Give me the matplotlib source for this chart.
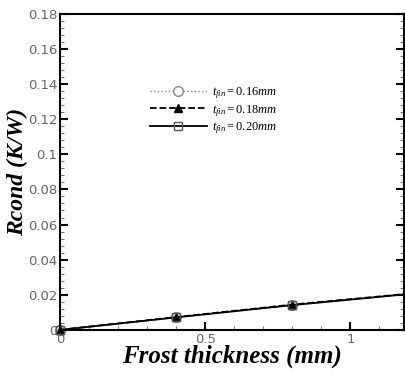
import matplotlib
matplotlib.use("Agg")
import matplotlib.pyplot as plt
from matplotlib.ticker import MultipleLocator

frost = [0.0, 0.4, 0.8, 1.2]
r_016 = [0.0, 0.0072, 0.0142, 0.0205]
r_018 = [0.0, 0.0073, 0.0144, 0.0206]
r_020 = [0.0, 0.0071, 0.0141, 0.0204]
labels = [r"$t_{fin}=0.16mm$", r"$t_{fin}=0.18mm$", r"$t_{fin}=0.20mm$"]

plt.rcParams['mathtext.fontset'] = 'custom'
plt.rcParams['mathtext.rm'] = 'Liberation Serif'
plt.rcParams['mathtext.it'] = 'Liberation Serif:italic'

fig = plt.figure(figsize=(4.05, 3.74), dpi=100)
ax = fig.add_axes([0.148, 0.118, 0.85, 0.845])

ax.plot(frost, r_016, linestyle=':', color='#888888', lw=1.0, marker='o',
        mfc='white', mec='#888888', ms=7, label=labels[0], clip_on=False)
ax.plot(frost, r_018, linestyle='--', color='black', lw=1.3, marker='^',
        mfc='black', mec='black', ms=6, label=labels[1], clip_on=False)
ax.plot(frost, r_020, linestyle='-', color='black', lw=1.3, marker='s',
        mfc='none', mec='#555555', ms=6, label=labels[2], clip_on=False)

ax.set_xlim(0, 1.185)
ax.set_ylim(0, 0.18)
ax.xaxis.set_minor_locator(MultipleLocator(0.1))
ax.yaxis.set_minor_locator(MultipleLocator(0.004))
ax.set_xticks([0, 0.5, 1])
ax.set_xticklabels(['0', '0.5', '1'])
ax.set_yticks([0, 0.02, 0.04, 0.06, 0.08, 0.1, 0.12, 0.14, 0.16, 0.18])
ax.set_yticklabels(['0', '0.02', '0.04', '0.06', '0.08', '0.1', '0.12', '0.14', '0.16', '0.18'])
ax.tick_params(which='both', direction='in', top=False, right=True,
               labelsize=9.5, labelcolor='#666666', pad=2)
ax.tick_params(which='major', length=6, width=1.5)
ax.tick_params(which='minor', length=3, width=0.8, color='#777777')
for s in ax.spines.values():
    s.set_linewidth(1.5)

ax.set_xlabel('Frost thickness (mm)', family='Liberation Serif', style='italic',
              weight='bold', fontsize=18, labelpad=-1)
ax.set_ylabel('Rcond (K/W)', family='Liberation Serif', style='italic',
              weight='bold', fontsize=17, labelpad=0)

leg = ax.legend(loc='upper left', bbox_to_anchor=(0.23, 0.81), frameon=False,
                fontsize=9, handlelength=4.5, labelspacing=0.15, handletextpad=0.4)

fig.savefig('out.png', dpi=100)
